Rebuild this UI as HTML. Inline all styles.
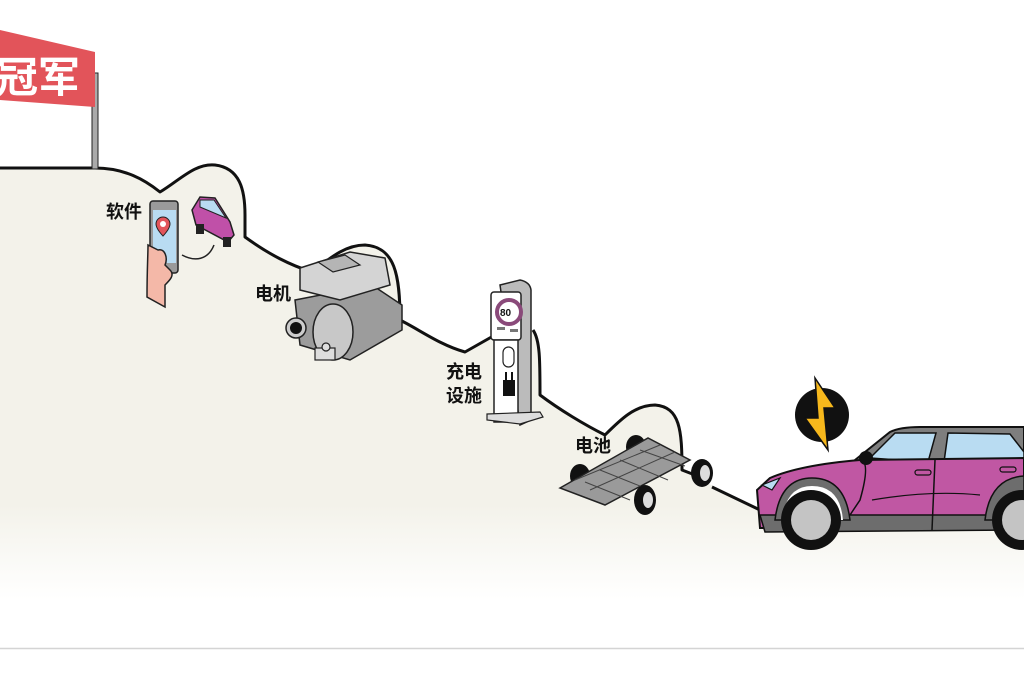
<!DOCTYPE html>
<html><head><meta charset="utf-8"><style>
html,body{margin:0;padding:0;background:#fff;width:1024px;height:682px;overflow:hidden}
svg{display:block}
text{font-family:"Liberation Sans","Noto Sans CJK SC",sans-serif;font-weight:bold}
</style></head><body>
<svg width="1024" height="682" viewBox="0 0 1024 682" xmlns="http://www.w3.org/2000/svg">
<defs>
<linearGradient id="fade" x1="0" y1="0" x2="0" y2="1">
<stop offset="0" stop-color="#f3f2ea"/>
<stop offset="0.78" stop-color="#f3f2ea"/>
<stop offset="1" stop-color="#ffffff"/>
</linearGradient>
</defs>
<rect width="1024" height="682" fill="#fff"/>
<path d="M0,168 L95,168 C125,168 145,180 160,192 C180,180 195,163 215,165 C240,168 245,190 245,215 L245,237 C270,255 290,265 312,272 C330,258 345,245 365,245 C395,247 400,275 400,320 C420,330 440,345 465,352 L495,335 L533,330 C540,340 540,360 540,395 C560,410 585,425 605,435 C620,420 635,405 655,405 C680,407 682,430 682,470 L760,510 L1024,510 L1024,600 L0,600 Z" fill="url(#fade)"/>
<path d="M0,168 L95,168 C125,168 145,180 160,192 C180,180 195,163 215,165 C240,168 245,190 245,215 L245,237 C270,255 290,265 312,272 C330,258 345,245 365,245 C395,247 400,275 400,320 C420,330 440,345 465,352 L495,335 M533,330 C540,340 540,360 540,395 C560,410 585,425 605,435 C620,420 635,405 655,405 C680,407 682,430 682,470 L695,475 M712,487 L760,510" fill="none" stroke="#111" stroke-width="3" stroke-linejoin="round"/>
<line x1="0" y1="648.5" x2="1024" y2="648.5" stroke="#d4d4d4" stroke-width="1.5"/>
<rect x="92" y="73" width="6" height="96" fill="#aaa" stroke="#222" stroke-width="1"/>
<path d="M0,30 L95,52 L95,107 L0,100 Z" fill="#e2545a"/>
<text x="-4" y="92" font-size="42" fill="#fff">冠军</text>
<text x="106" y="218" font-size="18" fill="#111">软件</text>
<rect x="150" y="201" width="28" height="72" rx="3" fill="#9a9a9a" stroke="#222" stroke-width="1.5"/>
<rect x="153" y="210" width="23" height="53" fill="#b9dcf2"/>
<path d="M163,217 a7,7 0 0 1 7,7 c0,5 -7,12 -7,12 c0,0 -7,-7 -7,-12 a7,7 0 0 1 7,-7z" fill="#e2545a" stroke="#222" stroke-width="1"/>
<circle cx="163" cy="224" r="3" fill="#fff"/>
<path d="M148,245 C148,255 147,270 147,297 L165,307 L165,285 C170,280 175,275 170,270 L165,265 C168,258 165,248 158,250 Z" fill="#f4b8a8" stroke="#222" stroke-width="1.5"/>
<path d="M182,255 C195,262 208,260 214,245" fill="none" stroke="#222" stroke-width="1.5"/>
<path d="M192,210 L200,197 L215,198 L230,222 L234,235 L228,242 L196,225 Z" fill="#c050a8" stroke="#222" stroke-width="1.5"/>
<path d="M200,200 L214,200 L226,218 L200,207 Z" fill="#b9dcf2" stroke="#222" stroke-width="1"/>
<rect x="196" y="224" width="8" height="10" fill="#222"/><rect x="223" y="237" width="8" height="10" fill="#222"/>
<text x="255" y="300" font-size="18" fill="#111">电机</text>
<path d="M295,300 L372,285 L402,305 L402,330 L350,360 L300,345 Z" fill="#9c9c9c" stroke="#222" stroke-width="1.5"/>
<path d="M300,268 L350,252 L385,258 L390,285 L340,300 L300,290 Z" fill="#d4d4d4" stroke="#222" stroke-width="1.5"/>
<path d="M318,262 L345,255 L360,265 L333,272 Z" fill="#b5b5b5" stroke="#222" stroke-width="1.2"/>
<ellipse cx="333" cy="332" rx="20" ry="28" fill="#c8c8c8" stroke="#222" stroke-width="1.5"/>
<circle cx="296" cy="328" r="10" fill="#ccc" stroke="#222" stroke-width="1.5"/>
<circle cx="296" cy="328" r="6" fill="#111"/>
<rect x="315" y="348" width="20" height="12" fill="#ddd" stroke="#222" stroke-width="1.2"/>
<circle cx="326" cy="347" r="4" fill="#ddd" stroke="#222" stroke-width="1.2"/>
<text x="446" y="378" font-size="18" fill="#111">充电</text>
<text x="446" y="402" font-size="18" fill="#111">设施</text>
<path d="M500,285 L520,280 Q530,282 531,290 L531,420 L520,425 Z" fill="#bbb" stroke="#222" stroke-width="1.5"/>
<rect x="491" y="292" width="30" height="48" rx="3" fill="#fff" stroke="#222" stroke-width="1.5"/>
<rect x="494" y="340" width="24" height="82" fill="#fff" stroke="#222" stroke-width="1.5"/>
<circle cx="509" cy="312" r="12" fill="#fff" stroke="#8a4a7a" stroke-width="4"/>
<text x="500" y="316" font-size="10" fill="#111">80</text>
<rect x="497" y="327" width="8" height="3" fill="#777"/><rect x="510" y="329" width="8" height="3" fill="#777"/>
<rect x="503" y="347" width="11" height="20" rx="5.5" fill="#fff" stroke="#222" stroke-width="1.2"/>
<rect x="503" y="380" width="12" height="16" fill="#111"/>
<rect x="505" y="372" width="2" height="8" fill="#111"/><rect x="511" y="372" width="2" height="8" fill="#111"/>
<path d="M487,414 L540,412 L543,417 L520,424 L487,420 Z" fill="#ddd" stroke="#222" stroke-width="1.2"/>
<text x="575" y="452" font-size="18" fill="#111">电池</text>
<ellipse cx="636" cy="447" rx="10" ry="12" fill="#111"/>
<ellipse cx="580" cy="476" rx="10" ry="12" fill="#111"/>
<path d="M560,488 L648,438 L690,460 L605,505 Z" fill="#9a9a9a" stroke="#222" stroke-width="1.5"/>
<path d="M575,480 L660,445 M590,490 L675,452 M600,470 L650,490 M620,460 L668,480 M640,450 L685,466 M585,482 L630,500" stroke="#444" stroke-width="1"/>
<ellipse cx="702" cy="473" rx="11" ry="14" fill="#111"/><ellipse cx="705" cy="473" rx="5" ry="8" fill="#ddd"/>
<ellipse cx="645" cy="500" rx="11" ry="15" fill="#111"/><ellipse cx="648" cy="500" rx="5" ry="8" fill="#ddd"/>
<circle cx="822" cy="415" r="27" fill="#111"/>
<path d="M815,378 L835,408 L824,408 L828,450 L805,418 L818,418 Z" fill="#f7b81c" stroke="#111" stroke-width="1.5"/>
<path d="M855,460 L890,432 Q900,427 920,427 L1024,427 L1024,510 Z" fill="#7e7e7e" stroke="#111" stroke-width="2"/>
<path d="M870,458 L895,433 L936,433 L928,462 Z" fill="#b9dcf2" stroke="#111" stroke-width="1.5"/>
<path d="M948,433 L1010,434 L1024,452 L1024,460 L944,462 Z" fill="#b9dcf2" stroke="#111" stroke-width="1.5"/>
<path d="M770,478 Q800,465 860,460 L1024,458 L1024,525 L760,528 L757,490 Z" fill="#c057a3" stroke="#111" stroke-width="2"/>
<path d="M760,515 L765,532 L1024,530 L1024,515 Z" fill="#6d6d6d" stroke="#111" stroke-width="1.5"/>
<path d="M762,485 L780,478 L772,490 Z" fill="#b9dcf2" stroke="#111" stroke-width="1.2"/>
<path d="M935,460 L932,530" stroke="#111" stroke-width="1.5"/>
<path d="M850,515 L860,500 Q870,465 862,460" stroke="#111" stroke-width="1.5" fill="none"/>
<path d="M872,500 Q930,490 980,495" stroke="#111" stroke-width="1.2" fill="none"/>
<rect x="915" y="470" width="16" height="5" rx="2.5" fill="#c057a3" stroke="#111" stroke-width="1.2"/>
<rect x="1000" y="467" width="16" height="5" rx="2.5" fill="#c057a3" stroke="#111" stroke-width="1.2"/>
<circle cx="866" cy="458" r="7" fill="#111"/>
<path d="M775,520 Q780,478 812,478 Q845,478 850,520 Z" fill="#6d6d6d" stroke="#111" stroke-width="1.5"/>
<path d="M782,520 Q786,486 812,486 Q840,486 843,520 Z" fill="#fff"/>
<circle cx="811" cy="520" r="30" fill="#111"/>
<circle cx="811" cy="520" r="20" fill="#c4c4c4"/>
<path d="M985,520 Q990,478 1024,476 L1024,520 Z" fill="#6d6d6d" stroke="#111" stroke-width="1.5"/>
<circle cx="1022" cy="520" r="30" fill="#111"/>
<circle cx="1022" cy="520" r="20" fill="#c4c4c4"/>
</svg>
</body></html>
